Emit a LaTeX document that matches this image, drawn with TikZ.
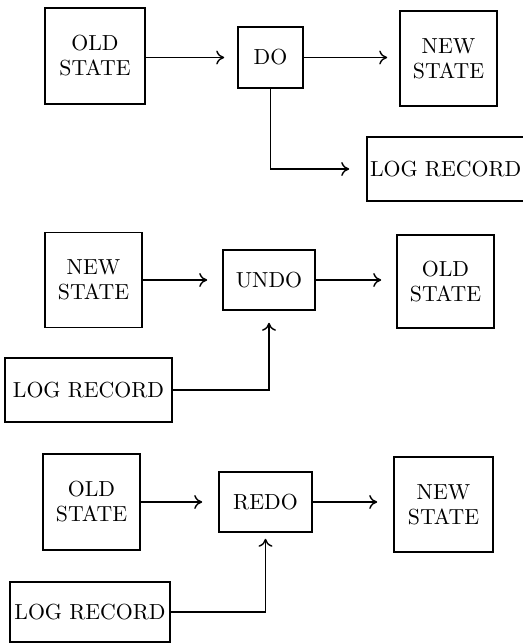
\documentclass[tikz,border=0pt]{standalone}
\usetikzlibrary{arrows.meta}
\begin{document}
\begin{tikzpicture}[x=0.5pt,y=-0.5pt]
\tikzset{boite/.style={draw, line width=0.8pt, align=center, inner sep=0pt, font=\fontsize{10.9}{12.5}\selectfont}}
\tikzset{fleche/.style={line width=0.7pt, -{To[length=4pt,width=7pt]}}}
\useasboundingbox (0,0) rectangle (523,644);
\clip (0,0) rectangle (523,644);
% DO
\node[boite, minimum width=50pt, minimum height=48pt] (O1) at (95,56) {OLD\\STATE};
\node[boite, minimum width=32.5pt, minimum height=30.5pt] (D1) at (270.5,57.5) {DO};
\node[boite, minimum width=48.5pt, minimum height=47.5pt] (N1) at (448.5,58.5) {NEW\\STATE};
\node[boite, align=left, text width=80.5pt, inner xsep=1.5pt, minimum height=32pt] (L1) at (450.5,169) {LOG RECORD};
\draw[fleche, shorten >=6.5pt] (O1.east |- D1) -- (D1.west);
\draw[fleche, shorten >=6pt] (D1.east) -- (D1.east -| N1.west);
\draw[fleche, shorten >=8.5pt] (D1.south) |- (L1.west);
% UNDO
\node[boite, minimum width=48.5pt, minimum height=47.5pt] (N2) at (93.5,280) {NEW\\STATE};
\node[boite, minimum width=46pt, minimum height=30pt] (U2) at (269,280) {UNDO};
\node[boite, minimum width=48.5pt, minimum height=46.5pt] (O2) at (445.5,281.5) {OLD\\STATE};
\node[boite, minimum width=83.5pt, minimum height=32pt] (L2) at (88.5,390) {LOG RECORD};
\draw[fleche, shorten >=7.5pt] (N2.east |- U2) -- (U2.west);
\draw[fleche, shorten >=7.5pt] (U2.east) -- (U2.east -| O2.west);
\draw[fleche, shorten >=6pt] (L2.east) -| (U2.south);
% REDO
\node[boite, minimum width=48.5pt, minimum height=48pt] (O3) at (91.5,502) {OLD\\STATE};
\node[boite, minimum width=46.5pt, minimum height=30pt] (R3) at (265.5,502) {REDO};
\node[boite, minimum width=49.5pt, minimum height=47.5pt] (N3) at (443.5,504.5) {NEW\\STATE};
\node[boite, minimum width=80pt, minimum height=30pt] (L3) at (90,612) {LOG RECORD};
\draw[fleche, shorten >=8pt] (O3.east |- R3) -- (R3.west);
\draw[fleche, shorten >=8pt] (R3.east) -- (R3.east -| N3.west);
\draw[fleche, shorten >=3pt] (L3.east) -| (R3.south);
\end{tikzpicture}
\end{document}
